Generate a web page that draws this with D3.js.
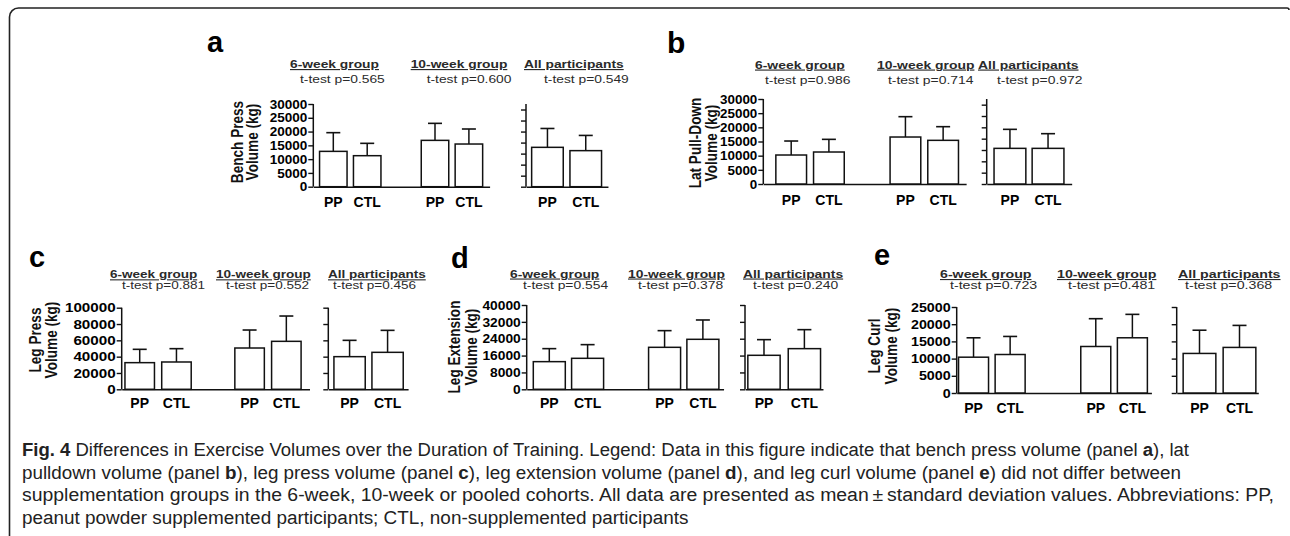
<!DOCTYPE html>
<html><head><meta charset="utf-8">
<script src="https://cdn.jsdelivr.net/npm/d3@7"></script>
<style>
html,body{margin:0;padding:0;background:#fff;}
svg{display:block;}
text{font-family:"Liberation Sans",Arial,Helvetica,sans-serif;}
.cap{font-family:"Liberation Sans Narrow","Liberation Sans",Arial,sans-serif;}
</style></head>
<body>
<svg id="chart" width="1290" height="536"></svg>
<script>
// ---------- DATA ----------
const panelIds = ['a','b','c','d','e'];
const exerciseLabels = [
  ['Bench Press','Volume (kg)'],
  ['Lat Pull-Down','Volume (kg)'],
  ['Leg Press','Volume (kg)'],
  ['Leg Extension','Volume (kg)'],
  ['Leg Curl','Volume (kg)']
];
const groupNames = ['6-week group','10-week group','All participants'];
const conditions = ['PP','CTL'];
const pValues = [
  ['0.565','0.600','0.549'],
  ['0.986','0.714','0.972'],
  ['0.881','0.552','0.456'],
  ['0.554','0.378','0.240'],
  ['0.723','0.481','0.368']
];
// mean values per panel: [6-week, 10-week, all]
const meanPP  = [[12820,16810,14280],[10230,16580,12580],[32650,50600,40000],[13120,19920,16130],[10410,13520,11500]];
const sdPP    = [[6780,6170,6840],[4940,7180,6710],[16330,22050,20000],[6170,7910,7430],[5640,8080,6750]];
const meanCTL = [[11250,15480,13080],[11290,15410,12580],[33470,58780,45300],[14700,23720,19290],[11190,16050,13250]];
const sdCTL   = [[4480,5450,5520],[4470,4820,5180],[16330,31020,26940],[6490,9170,9010],[5250,6810,6400]];
const yMax = [30000,30000,100000,40000,25000];
const mainTickStep = [5000,5000,20000,8000,5000];
const allTickStep  = [4000,4000,20000,8000,5000];

const captionLines = [
  [['Fig. 4',true],[' Differences in Exercise Volumes over the Duration of Training. Legend: Data in this figure indicate that bench press volume (panel ',false],['a',true],['), lat',false]],
  [['pulldown volume (panel ',false],['b',true],['), leg press volume (panel ',false],['c',true],['), leg extension volume (panel ',false],['d',true],['), and leg curl volume (panel ',false],['e',true],[') did not differ between',false]],
  [['supplementation groups in the 6-week, 10-week or pooled cohorts. All data are presented as mean\u2009\u00b1\u2009standard deviation values. Abbreviations: PP,',false]],
  [['peanut powder supplemented participants; CTL, non-supplemented participants',false]]
];

// ---------- LAYOUT ----------
const layout = {
  a:{yTop:104,yBot:186.7,mainX:313.3,mainStep:33.9,mainPad:[0.59,0.61],gap:3,allX:526,allStep:38.3,allPad:[0.56,0.58],bw:27.5,abw:31.6,
     letter:[207,52,29],ylab:[243,258,142],titleX:[290,410.7,524],ttX:[300,426.7,544],titleY:68,ttY:83,catY:207,fs:11.5,sx:1.2,tickFs:13,tickSx:1.04},
  b:{yTop:99,yBot:184,mainX:763.3,mainStep:37.7,mainPad:[0.74,0.61],gap:3.03,allX:986.7,allStep:38.1,allPad:[0.61,0.62],bw:30.7,abw:31.8,
     letter:[667,53,30],ylab:[701,717,143],titleX:[755,877,978],ttX:[765,888,997],titleY:68.5,ttY:84,catY:205,fs:11.5,sx:1.21,tickFs:13,tickSx:1.03},
  c:{yTop:307.7,yBot:389.3,mainX:121.7,mainStep:36.75,mainPad:[0.49,0.63],gap:2.99,allX:328.3,allStep:38,allPad:[0.56,0.54],bw:29.5,abw:31.3,
     letter:[29,267,29],ylab:[41,57,340],titleX:[110,216,328],ttX:[122,226,333],titleY:278.3,ttY:289.3,catY:408.3,fs:11,sx:1.23,tickFs:13,tickSx:1.17},
  d:{yTop:305,yBot:389.3,mainX:526.7,mainStep:38.3,mainPad:[0.59,0.54],gap:3.01,allX:745,allStep:40.4,allPad:[0.47,0.46],bw:32,abw:32.3,
     letter:[451,268,29],ylab:[460,477,347],titleX:[510,628,743],ttX:[523,638,753],titleY:277.5,ttY:288.7,catY:408.3,fs:11,sx:1.26,tickFs:13,tickSx:1.06},
  e:{yTop:307,yBot:393,mainX:956.7,mainStep:36.6,mainPad:[0.46,0.52],gap:3.34,allX:1176.7,allStep:40,allPad:[0.57,0.47],bw:30,abw:32.7,
     letter:[874,265,29],ylab:[880,897,346],titleX:[940,1057,1178],ttX:[950,1068,1185],titleY:278,ttY:289.3,catY:412.5,fs:11,sx:1.29,tickFs:13,tickSx:1.1}
};

const svg = d3.select('#chart');
const ink = '#111';

function stretch(sel, sx){
  sel.each(function(){
    const len = this.getComputedTextLength();
    d3.select(this).attr('textLength', len*sx).attr('lengthAdjust','spacingAndGlyphs');
  });
}

// frame
svg.append('path')
  .attr('d','M9.5,536 V17 A9,9 0 0 1 18.5,8 H1287 Q1289,8 1289,10')
  .attr('fill','none').attr('stroke','#222').attr('stroke-width',1.6);

panelIds.forEach((pid,pi)=>{
  const L = layout[pid];
  const g = svg.append('g');
  const y = d3.scaleLinear().domain([0,yMax[pi]]).range([L.yBot,L.yTop]);
  const slotsMain = [0,1,L.gap,L.gap+1];
  const xMain = d3.scaleLinear().domain([-L.mainPad[0], L.gap+1+L.mainPad[1]])
      .range([L.mainX, L.mainX + (L.gap+1+L.mainPad[0]+L.mainPad[1])*L.mainStep]);
  const xAll = d3.scaleLinear().domain([-L.allPad[0], 1+L.allPad[1]])
      .range([L.allX, L.allX + (1+L.allPad[0]+L.allPad[1])*L.allStep]);

  g.append('text').attr('x',L.letter[0]).attr('y',L.letter[1]).attr('font-size',L.letter[2])
    .attr('font-weight','bold').attr('fill','#000').text(pid);

  exerciseLabels[pi].forEach((t,i)=>{
    g.append('text').attr('transform',`translate(${L.ylab[i]},${L.ylab[2]}) scale(1.2,1) rotate(-90)`)
      .attr('text-anchor','middle').attr('font-size',13.6).attr('font-weight','bold').attr('fill',ink).text(t);
  });

  groupNames.forEach((t,i)=>{
    g.append('text').attr('x',L.titleX[i]).attr('y',L.titleY).attr('font-size',L.fs)
      .attr('font-weight','bold').attr('fill','#2a2a2a').style('text-decoration','underline').text(t)
      .call(stretch,L.sx);
    g.append('text').attr('x',L.ttX[i]).attr('y',L.ttY).attr('font-size',L.fs)
      .attr('fill','#2a2a2a').text('t-test p='+pValues[pi][i])
      .call(stretch,L.sx);
  });

  const styleAxis = sel=>{
    sel.selectAll('line').attr('stroke',ink).attr('stroke-width',1.4);
    sel.selectAll('text').attr('font-size',L.tickFs).attr('font-weight','bold')
      .attr('fill','#000').attr('font-family','"Liberation Sans",Arial,sans-serif')
      .call(stretch,L.tickSx);
  };
  const yAxMain = d3.axisLeft(y).tickValues(d3.range(0,yMax[pi]+1,mainTickStep[pi]))
      .tickSize(5).tickSizeOuter(0).tickPadding(1).tickFormat(d3.format('d'));
  g.append('g').attr('transform',`translate(${L.mainX},0)`).call(yAxMain)
    .call(s=>s.select('.domain').remove()).call(styleAxis);
  g.append('line').attr('x1',L.mainX).attr('x2',L.mainX).attr('y1',y(0)).attr('y2',y(yMax[pi]))
    .attr('stroke',ink).attr('stroke-width',1.5);
  const yAxAll = d3.axisLeft(y).tickValues(d3.range(0,yMax[pi]+1,allTickStep[pi]))
      .tickSize(5).tickSizeOuter(0).tickFormat('');
  g.append('g').attr('transform',`translate(${L.allX},0)`).call(yAxAll)
    .call(s=>s.select('.domain').remove()).call(styleAxis);
  g.append('line').attr('x1',L.allX).attr('x2',L.allX).attr('y1',y(0)).attr('y2',y(yMax[pi]))
    .attr('stroke',ink).attr('stroke-width',1.5);

  [xMain,xAll].forEach(xs=>{
    g.append('g').attr('transform',`translate(0,${y(0)})`)
      .call(d3.axisBottom(xs).tickValues([]).tickSizeOuter(0))
      .call(s=>s.select('.domain').attr('stroke',ink).attr('stroke-width',1.5));
  });

  const bars = [];
  [0,1,2].forEach(gi=>{
    conditions.forEach((c,ci)=>{
      const isAll = gi===2;
      const xs = isAll ? xAll : xMain;
      const slot = isAll ? ci : slotsMain[gi*2+ci];
      const mean = ci===0 ? meanPP[pi][gi] : meanCTL[pi][gi];
      const sd = ci===0 ? sdPP[pi][gi] : sdCTL[pi][gi];
      bars.push({cx:xs(slot), w:isAll?L.abw:L.bw, mean, sd, c});
    });
  });
  bars.forEach(b=>{
    g.append('line').attr('x1',b.cx).attr('x2',b.cx).attr('y1',y(b.mean)).attr('y2',y(b.mean+b.sd))
      .attr('stroke',ink).attr('stroke-width',1.5);
    g.append('line').attr('x1',b.cx-7).attr('x2',b.cx+7).attr('y1',y(b.mean+b.sd)).attr('y2',y(b.mean+b.sd))
      .attr('stroke',ink).attr('stroke-width',1.6);
    g.append('rect').attr('x',b.cx-b.w/2).attr('y',y(b.mean)).attr('width',b.w).attr('height',y(0)-y(b.mean))
      .attr('fill','#fff').attr('stroke',ink).attr('stroke-width',1.5);
    g.append('text').attr('x',b.cx).attr('y',L.catY).attr('text-anchor','middle')
      .attr('font-size',14).attr('font-weight','bold').attr('fill','#000').text(b.c);
  });
});

// caption: full lines fitted to their measured right ends, last line at the same compression
const capBase = [456,479,501,524];
const capEnd = [1189,1181,1274,null];
const capNodes = captionLines.map((parts,i)=>{
  const t = svg.append('text').attr('class','cap').attr('x',22).attr('y',capBase[i])
    .attr('font-size',18).attr('fill','#222');
  parts.forEach(p=>{
    t.append('tspan').attr('font-weight',p[1]?'bold':'normal').text(p[0]);
  });
  return t;
});
const ratios = [];
capNodes.forEach((t,i)=>{
  const len = t.node().getComputedTextLength();
  if(capEnd[i]!==null){ ratios.push((capEnd[i]-22)/len); t.attr('textLength',capEnd[i]-22).attr('lengthAdjust','spacingAndGlyphs'); }
});
const rAvg = d3.mean(ratios);
capNodes.forEach((t,i)=>{
  if(capEnd[i]===null){ const len=t.node().getComputedTextLength(); t.attr('textLength',len*rAvg).attr('lengthAdjust','spacingAndGlyphs'); }
});
</script>
</body></html>
